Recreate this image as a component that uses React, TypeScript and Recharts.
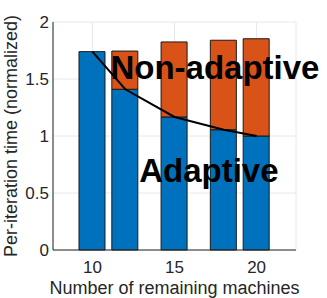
import { ComposedChart, Bar, Line, XAxis, YAxis, CartesianGrid, ReferenceDot } from "recharts";

const machines = [10, 12, 15, 18, 20];
const adaptive = [1.74, 1.41, 1.167, 1.055, 1.0];
const nonAdaptive = [1.74, 1.745, 1.825, 1.84, 1.853];
const xTicks = [10, 15, 20];
const yTicks = [0, 0.5, 1, 1.5, 2];

const data = machines.map((m, i) => ({
  machines: m,
  adaptive: adaptive[i],
  extra: nonAdaptive[i] - adaptive[i],
}));

const font = "'Liberation Sans', Arial, sans-serif";
const axisColor = "#262626";

const XTick = (props: any) => (
  <text x={props.x} y={props.y + 12} textAnchor="middle" fontSize={17} fontFamily={font} fill={axisColor}>
    {props.payload.value}
  </text>
);

const YTick = (props: any) => (
  <text x={props.x} y={props.y + 6} textAnchor="end" fontSize={17} fontFamily={font} fill={axisColor}>
    {props.payload.value}
  </text>
);

export default function App() {
  return (
    <div style={{ position: "absolute", left: 0, top: 0, background: "#fff" }}>
      <ComposedChart width={327} height={298} data={data} margin={{ top: 22, right: 31, left: 0, bottom: 0 }}>
        <CartesianGrid stroke="#e8e8e8" />
        <XAxis
          dataKey="machines"
          type="number"
          domain={[7.6, 22.4]}
          ticks={xTicks}
          height={48}
          tickSize={0}
          tickMargin={11}
          tickLine={false}
          stroke={axisColor}
          tick={<XTick />}
          label={{
            value: "Number of remaining machines",
            position: "insideBottom",
            offset: 4,
            style: { fontSize: 18, fill: axisColor, fontFamily: font },
          }}
        />
        <YAxis
          type="number"
          domain={[0, 2]}
          ticks={yTicks}
          width={53}
          tickSize={0}
          tickMargin={4}
          tickLine={false}
          stroke={axisColor}
          tick={<YTick />}
          label={{
            value: "Per-iteration time (normalized)",
            angle: -90,
            position: "center",
            dx: -16,
            style: { fontSize: 18, fill: axisColor, fontFamily: font, textAnchor: "middle" },
          }}
        />
        <Bar dataKey="adaptive" stackId="a" fill="#0072BD" stroke="#1a1a1a" strokeWidth={1} barSize={26} isAnimationActive={false} />
        <Bar dataKey="extra" stackId="a" fill="#D95319" stroke="#1a1a1a" strokeWidth={1} barSize={26} isAnimationActive={false} />
        <Line dataKey="adaptive" type="linear" stroke="#000" strokeWidth={2} dot={false} isAnimationActive={false} />
        <ReferenceDot
          x={11.1}
          y={1.603}
          r={0}
          fill="none"
          stroke="none"
          label={{
            value: "Non-adaptive",
            position: "right",
            offset: 0,
            style: { fontSize: 33, fontWeight: "bold", fill: "#000", fontFamily: font },
          }}
        />
        <ReferenceDot
          x={12.85}
          y={0.7}
          r={0}
          fill="none"
          stroke="none"
          label={{
            value: "Adaptive",
            position: "right",
            offset: 0,
            style: { fontSize: 33, fontWeight: "bold", fill: "#000", fontFamily: font },
          }}
        />
      </ComposedChart>
    </div>
  );
}
